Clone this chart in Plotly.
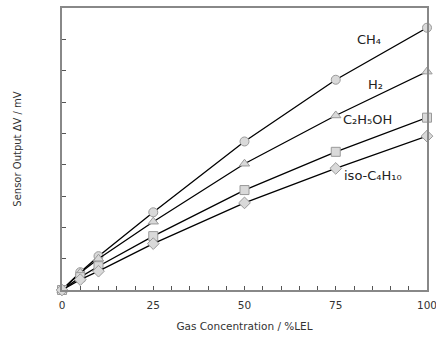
import plotly.graph_objects as go

conc = [0, 5, 10, 25, 50, 75, 100]
ch4 = [0, 0.57, 1.08, 2.48, 4.74, 6.71, 8.37]
h2 = [0, 0.55, 1.00, 2.18, 4.03, 5.57, 6.97]
c2h5oh = [0, 0.41, 0.76, 1.72, 3.19, 4.41, 5.50]
iso_c4h10 = [0, 0.33, 0.60, 1.48, 2.78, 3.88, 4.91]

series_names = ["CH₄", "H₂", "C₂H₅OH", "iso-C₄H₁₀"]
series_vals = [ch4, h2, c2h5oh, iso_c4h10]
symbols = ["circle", "triangle-up", "square", "diamond"]
label_pos = [(84.1, 8.0), (86.0, 6.55), (83.8, 5.45), (85.2, 3.66)]

x_tick_vals = [0, 25, 50, 75, 100]
x_tick_text = ["0", "25", "50", "75", "100"]

font = "DejaVu Sans, Verdana, sans-serif"
fig = go.Figure()
for name, vals, sym in zip(series_names, series_vals, symbols):
    fig.add_trace(go.Scatter(
        x=conc, y=vals, mode="lines+markers", name=name,
        line=dict(color="black", width=1.3),
        marker=dict(symbol=sym, size=9, color="#d9d9d9",
                    line=dict(color="#9a9a9a", width=1)),
        cliponaxis=False, showlegend=False))

for name, (lx, ly) in zip(series_names, label_pos):
    fig.add_annotation(x=lx, y=ly, text=name, showarrow=False,
                       font=dict(family=font, size=13, color="#222"),
                       xanchor="center", yanchor="middle")

fig.update_layout(
    width=436, height=341,
    margin=dict(l=62, r=9, t=8, b=51, autoexpand=False),
    paper_bgcolor="white", plot_bgcolor="white",
    font=dict(family=font, size=10, color="#333"),
)
fig.update_xaxes(
    range=[0, 100], tickvals=x_tick_vals, ticktext=x_tick_text,
    ticks="inside", ticklen=4, tickcolor="#555",
    minor=dict(dtick=5, ticks="inside", ticklen=4, tickcolor="#555"),
    showgrid=False, zeroline=False, automargin=False,
    showline=True, linecolor="#888", linewidth=1.5, mirror=True,
    ticklabeloverflow="allow", ticklabelstandoff=5,
    title=dict(text="Gas Concentration / %LEL", font=dict(size=10.5), standoff=12),
    tickfont=dict(size=10.5),
)
fig.update_yaxes(
    range=[0, 9], dtick=1, ticks="inside", ticklen=4, tickcolor="#555",
    showticklabels=False, showgrid=False, zeroline=False, automargin=False,
    showline=True, linecolor="#888", linewidth=1.5, mirror=True,
    title=dict(text="Sensor Output ΔV / mV", font=dict(size=10), standoff=37),
)
fig.write_html("out.html")
